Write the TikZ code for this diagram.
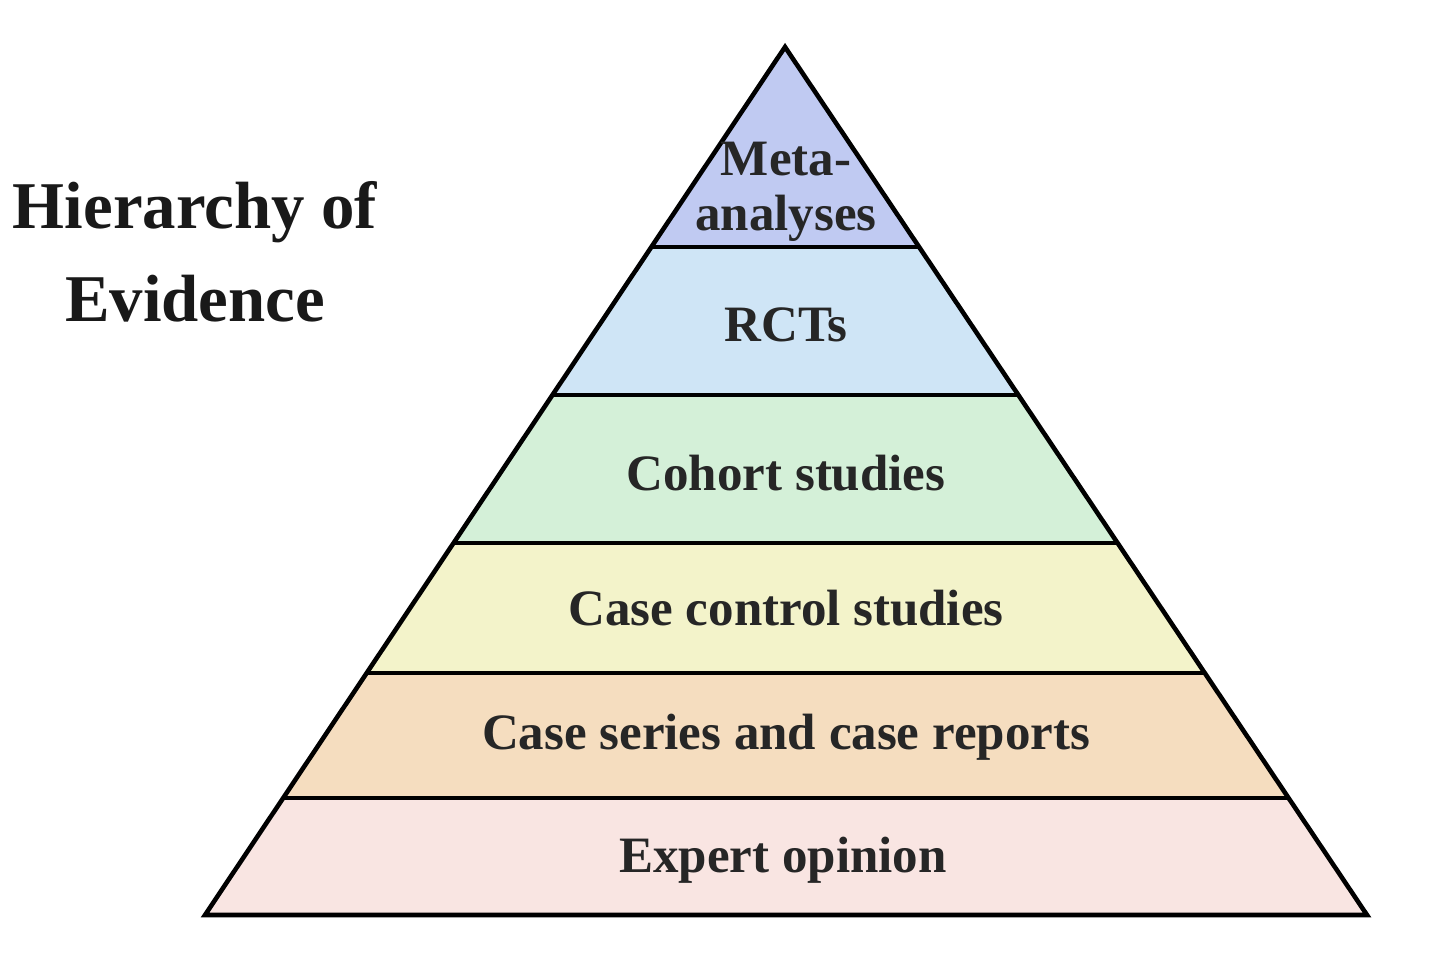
\documentclass[tikz,border=0pt]{standalone}
\usepackage{fontspec}
\setmainfont{Liberation Serif}
\definecolor{cA}{RGB}{192,202,242}
\definecolor{cB}{RGB}{207,229,246}
\definecolor{cC}{RGB}{212,240,216}
\definecolor{cD}{RGB}{243,243,202}
\definecolor{cE}{RGB}{245,221,191}
\definecolor{cF}{RGB}{249,229,226}
\begin{document}
\begin{tikzpicture}[x=0.01cm,y=-0.01cm,
  lbl/.style={font=\bfseries\fontsize{14.5}{15.5}\selectfont, text=black!85, align=center},
  band/.style={draw=black, line width=1.3pt}]
\useasboundingbox (0,0) rectangle (1440,973);
\coordinate (apex) at (785,47);
\coordinate (bl) at (205,915);
\coordinate (br) at (1367,915);
\begin{scope}
\clip (apex) -- (bl) -- (br) -- cycle;
\fill[cA] (0,0) rectangle (1440,247);
\fill[cB] (0,247) rectangle (1440,395);
\fill[cC] (0,395) rectangle (1440,543);
\fill[cD] (0,543) rectangle (1440,673);
\fill[cE] (0,673) rectangle (1440,798);
\fill[cF] (0,798) rectangle (1440,915);
\foreach \y in {247,395,543,673,798}
  \draw[line width=1.3pt] (0,\y) -- (1440,\y);
\end{scope}
\draw[band, line join=miter] (apex) -- (bl) -- (br) -- cycle;
\node[lbl] (m) at (786,192) {Meta-\\analyses};
\node[lbl] (r) at (786,325) {RCTs};
\node[lbl] (c) at (786,473) {Cohort studies};
\node[lbl] (cc) at (786,608) {Case control studies};
\node[lbl] (cs) at (786,737) {Case series and case reports};
\node[lbl] (e) at (783,860) {Expert opinion};
\node[font=\bfseries\fontsize{19}{26.5}\selectfont, align=center, text=black!90] (t) at (195,252) {Hierarchy of\\Evidence};
\end{tikzpicture}
\end{document}
